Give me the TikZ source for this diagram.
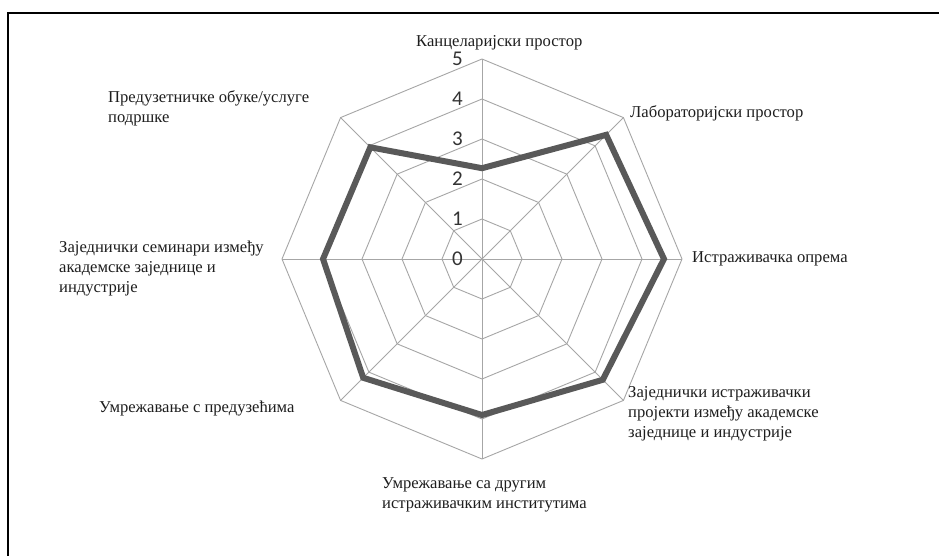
\documentclass[tikz,border=0pt]{standalone}
\usepackage{fontspec}
\setmainfont{Liberation Serif}
\newfontfamily\numfont{Carlito}
\definecolor{gridgray}{HTML}{A6A6A6}
\definecolor{seriesgray}{HTML}{595959}
\definecolor{labelblack}{HTML}{1E1E1E}
\definecolor{numgray}{HTML}{333333}
\begin{document}
\begin{tikzpicture}[x=1pt,y=-1pt,
  grid/.style={draw=gridgray, line width=0.9pt},
  series/.style={draw=seriesgray, line width=6pt, line join=miter},
  lbl/.style={font=\fontsize{16.6}{20}\selectfont, text=labelblack, inner sep=0pt, align=left, anchor=base west},
  num/.style={font=\numfont\fontsize{21}{25}\selectfont, text=numgray, inner sep=0pt, anchor=east},
  frame/.style={draw=black, line width=2pt}]
\useasboundingbox (0,0) rectangle (939,555);
\fill[white] (0,0) rectangle (939,555);
\draw[frame] (8.3,556) -- (8.3,13.3) -- (940,13.3);
\coordinate (c) at (482,259);
\begin{scope}[shift={(c)}, y=1pt]
  % rings
  \foreach \r in {1,...,5}
    \draw[grid] plot[samples at={0,45,...,315}] (\x:{40*\r}) -- cycle;
  % spokes
  \foreach \a in {0,45,...,315}
    \draw[grid] (0,0) -- (\a:200);
  % series
  \draw[series] (90:90.8) -- (45:175.6) -- (0:182) -- (-45:170.8)
     -- (-90:156) -- (-135:168) -- (180:159) -- (135:158) -- cycle;
  % value labels
  \foreach \v in {0,...,5}
    \node[num] (n\v) at (-19,{40*\v}) {\v};
\end{scope}
% category labels (base anchor = baseline of last line)
\node[lbl] (l1) at (416,46) {Канцеларијски простор};
\node[lbl] (l2) at (630,117) {Лабораторијски простор};
\node[lbl] (l3) at (692,262) {Истраживачка опрема};
\node[lbl] (l4) at (628,437) {Заједнички истраживачки\\пројекти између академске\\заједнице и индустрије};
\node[lbl] (l5) at (382,508) {Умрежавање са другим\\истраживачким институтима};
\node[lbl] (l6) at (99,412) {Умрежавање с предузећима};
\node[lbl] (l7) at (59,292) {Заједнички семинари између\\академске заједнице и\\индустрије};
\node[lbl] (l8) at (108,122) {Предузетничке обуке/услуге\\подршке};
\end{tikzpicture}
\end{document}
